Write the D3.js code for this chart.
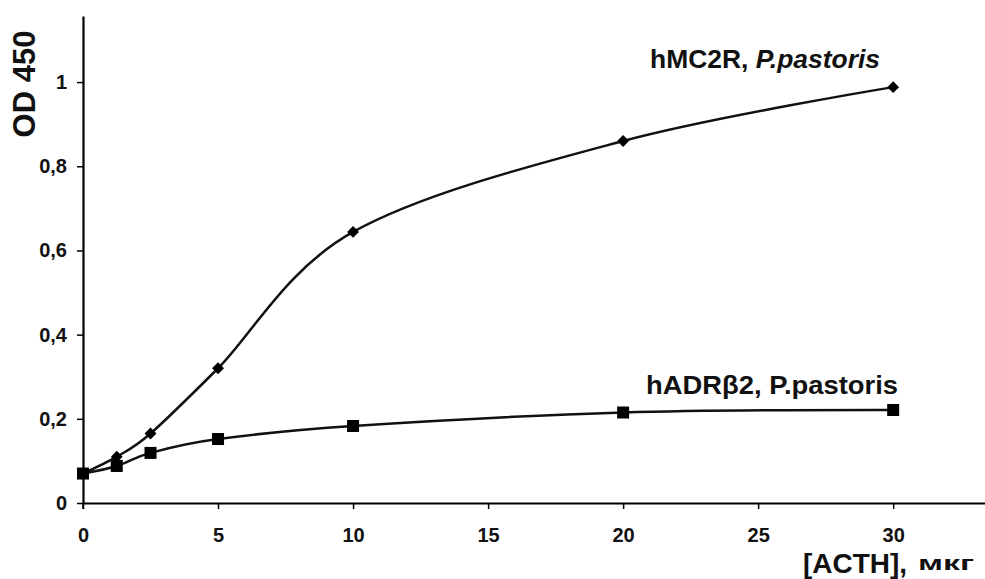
<!DOCTYPE html>
<html>
<head>
<meta charset="utf-8">
<script src="https://cdn.jsdelivr.net/npm/d3@7"></script>
<style>
  body { margin: 0; background: #fff; }
  svg { display: block; font-family: "Liberation Sans", Arial, sans-serif; }
</style>
</head>
<body>
<div id="chart"></div>
<script>
// ACTH dose, µg
const doses = [0, 1.25, 2.5, 5, 10, 20, 30];
// OD 450 readings
const mc2rValues = [0.07, 0.11, 0.165, 0.32, 0.644, 0.86, 0.988];
const adrb2Values = [0.07, 0.088, 0.119, 0.152, 0.183, 0.215, 0.221];
const xTicks = [0, 5, 10, 15, 20, 25, 30];
const yTicks = [0, 0.2, 0.4, 0.6, 0.8, 1];

const width = 985;
const height = 579;
const margin = { top: 16, right: 0, bottom: 76, left: 83 };

const svg = d3.select('#chart').append('svg').attr('width', width).attr('height', height);

const x = d3.scaleLinear().domain([0, 33.4]).range([margin.left, width - margin.right]);
const y = d3.scaleLinear().domain([0, 1.157]).range([height - margin.bottom, margin.top]);

const fmt = (d) => String(d).replace('.', ',');

const xAxis = svg
  .append('g')
  .attr('transform', `translate(0,${y(0)})`)
  .call(d3.axisBottom(x).tickValues(xTicks).tickSize(6).tickSizeOuter(0).tickPadding(19));
xAxis.select('.domain').attr('stroke-width', 2.2);
xAxis.selectAll('.tick line').attr('stroke-width', 1.5);
xAxis.selectAll('text').attr('font-size', 20).attr('font-weight', 'bold').attr('fill', '#111');

const yAxis = svg
  .append('g')
  .attr('transform', `translate(${x(0)},0)`)
  .call(d3.axisLeft(y).tickValues(yTicks).tickFormat(fmt).tickSize(6).tickSizeOuter(0).tickPadding(10));
yAxis.select('.domain').attr('stroke-width', 2.2);
yAxis.selectAll('.tick line').attr('stroke-width', 1.5);
yAxis.selectAll('text').attr('font-size', 20).attr('font-weight', 'bold').attr('fill', '#111');

// small downward extension of the y axis below the x axis
svg
  .append('line')
  .attr('x1', x(0))
  .attr('x2', x(0))
  .attr('y1', y(0))
  .attr('y2', y(0) + 6)
  .attr('stroke', '#000')
  .attr('stroke-width', 1.5);

const line = d3
  .line()
  .curve(d3.curveCardinal.tension(0))
  .x((d) => x(d[0]))
  .y((d) => y(d[1]));

const series = [
  { values: mc2rValues, marker: 'diamond' },
  { values: adrb2Values, marker: 'square' },
];

series.forEach((s) => {
  const pts = doses.map((d, i) => [d, s.values[i]]);
  svg
    .append('path')
    .datum(pts)
    .attr('d', line)
    .attr('fill', 'none')
    .attr('stroke', '#111')
    .attr('stroke-width', 2.5);

  if (s.marker === 'square') {
    svg
      .append('g')
      .selectAll('rect')
      .data(pts)
      .enter()
      .append('rect')
      .attr('x', (d) => x(d[0]) - 6)
      .attr('y', (d) => y(d[1]) - 6)
      .attr('width', 12)
      .attr('height', 12)
      .attr('fill', '#000');
  } else {
    svg
      .append('g')
      .selectAll('path')
      .data(pts)
      .enter()
      .append('path')
      .attr('d', d3.symbol(d3.symbolDiamond2, 90))
      .attr('transform', (d) => `translate(${x(d[0])},${y(d[1])})`)
      .attr('fill', '#000');
  }
});

// series labels
const lab1 = svg
  .append('text')
  .attr('x', 650)
  .attr('y', 68)
  .attr('font-size', 25)
  .attr('font-weight', 'bold')
  .attr('fill', '#111')
  .attr('textLength', 230)
  .attr('lengthAdjust', 'spacingAndGlyphs');
lab1.append('tspan').text('hMC2R, ');
lab1.append('tspan').attr('font-style', 'italic').text('P.pastoris');

svg
  .append('text')
  .attr('x', 646)
  .attr('y', 394)
  .attr('font-size', 25)
  .attr('font-weight', 'bold')
  .attr('fill', '#111')
  .attr('textLength', 252)
  .attr('lengthAdjust', 'spacingAndGlyphs')
  .text('hADRβ2, P.pastoris');

// axis titles
svg
  .append('text')
  .attr('transform', 'translate(35,84) rotate(-90)')
  .attr('text-anchor', 'middle')
  .attr('font-size', 31)
  .attr('font-weight', 'bold')
  .attr('fill', '#111')
  .text('OD 450');

svg
  .append('text')
  .attr('x', 803)
  .attr('y', 573)
  .attr('font-size', 27)
  .attr('font-weight', 'bold')
  .attr('fill', '#111')
  .attr('textLength', 104)
  .attr('lengthAdjust', 'spacingAndGlyphs')
  .text('[ACTH],');

svg
  .append('text')
  .attr('x', 918)
  .attr('y', 570)
  .attr('font-size', 21)
  .attr('font-weight', 'bold')
  .attr('fill', '#111')
  .attr('textLength', 56)
  .attr('lengthAdjust', 'spacingAndGlyphs')
  .text('мкг');
</script>
</body>
</html>
